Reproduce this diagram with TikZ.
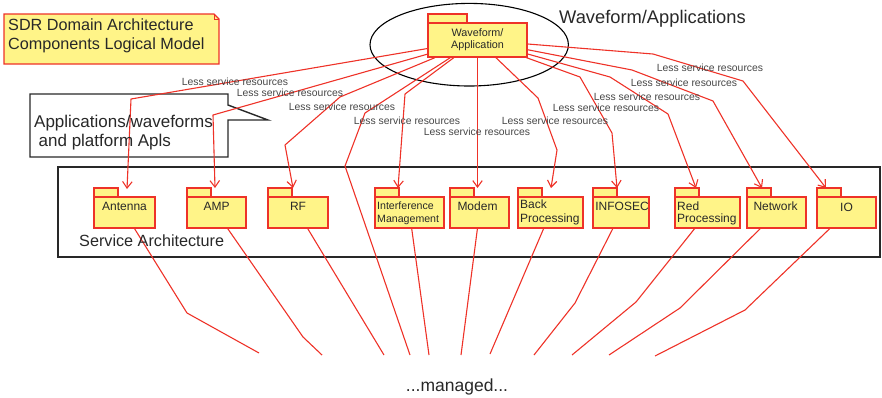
\documentclass[tikz,border=0pt]{standalone}
\usepackage{fontspec}
\setmainfont{Liberation Sans}
\usetikzlibrary{arrows.meta}

\definecolor{umlred}{RGB}{238,50,40}
\definecolor{umlyellow}{RGB}{255,244,136}
\definecolor{inkgray}{RGB}{40,40,40}
\definecolor{labelgray}{RGB}{70,70,70}

% package symbol: tab plus named body node (name, left x, right x)
\newcommand\umlpackage[3]{%
  \draw[pkgframe] (#2,188) rectangle ++(24,9);
  \node[pkgbody, minimum width={#3-#2}] (#1) at ({(#2+#3)/2},212.5) {};%
}

\begin{document}
\begin{tikzpicture}[x=1pt,y=-1pt,
  pkgframe/.style={draw=umlred, fill=umlyellow, line width=1.3pt},
  pkgbody/.style={pkgframe, inner sep=0pt, minimum height=31pt},
  pkglabel/.style={font=\fontsize{12}{13}\selectfont, text=inkgray, inner sep=0pt, anchor=base},
  pkgleft/.style={pkglabel, anchor=base west},
  smallleft/.style={font=\fontsize{10.6}{12}\selectfont, text=inkgray, inner sep=0pt, anchor=base west},
  bigtext/.style={font=\fontsize{16.5}{19}\selectfont, text=inkgray, inner sep=0pt, anchor=base west},
  resl/.style={font=\fontsize{10.4}{11}\selectfont, text=labelgray, inner sep=0pt, anchor=base},
  frame/.style={draw=inkgray, line width=1.4pt},
  conn/.style={draw=umlred, line width=1.1pt, line join=round},
  dep/.style={conn, -{Straight Barb[length=6.5pt,width=9.5pt]}},
]
\useasboundingbox (0,0) rectangle (882,397);

% service architecture container
\node[frame, inner sep=0pt, minimum width=822pt, minimum height=90pt] (svc) at (469,212) {};

% callout for the application interfaces
\draw[frame, fill=white] (30,94) -- (228,94) -- (228,105) -- (268,120)
  -- (228,120) -- (228,157) -- (30,157) -- cycle;

% waveform/application grouping
\draw[draw=black, line width=1.1pt] (469.2,44.7) ellipse [x radius=99.2, y radius=41.3];

% model title note with folded corner
\draw[pkgframe] (4,14) -- (214,14) -- (219,19) -- (219,64) -- (4,64) -- cycle;
\draw[draw=umlred, line width=1pt] (214,14) -- (214,19) -- (219,19);

% waveform package
\draw[pkgframe] (428,14) rectangle (467,23);
\node[pkgframe, inner sep=0pt, minimum width=99pt, minimum height=34pt,
  align=center, font=\fontsize{10.8}{12}\selectfont, text=inkgray] (wf) at (477.5,40)
  {Waveform/\\Application};

% service packages
\umlpackage{ant}{94}{155}
\umlpackage{amp}{187}{246}
\umlpackage{rf}{268}{328}
\umlpackage{intf}{375}{444}
\umlpackage{modem}{450}{509}
\umlpackage{back}{518}{583}
\umlpackage{infosec}{593}{649}
\umlpackage{red}{675}{740}
\umlpackage{net}{747}{806}
\umlpackage{io}{817}{876}

% arrow tips above the packages
\coordinate (antT) at (127,189);
\coordinate (ampT) at (215,188);
\coordinate (rfT) at (293,188);
\coordinate (intfT) at (398,188);
\coordinate (modemT) at (477.5,188);
\coordinate (backT) at (551,188);
\coordinate (infoT) at (617,188);
\coordinate (redT) at (696,188);
\coordinate (netT) at (762,188);
\coordinate (ioT) at (826,188);

% loose ends converging on the managed resources
\coordinate (m1) at (259,353);
\coordinate (m2) at (322,355);
\coordinate (m3) at (384,355);
\coordinate (m4) at (410,355);
\coordinate (m5) at (429,355);
\coordinate (m6) at (461,355);
\coordinate (m7) at (490,354);
\coordinate (m8) at (534,355);
\coordinate (m9) at (572,355);
\coordinate (m10) at (609,355);
\coordinate (m11) at (655,356);

% dependencies from the waveform to the services
\draw[dep] (wf) -- (131,99) -- (antT);
\draw[dep] (wf) -- (213,115) -- (ampT);
\draw[dep] (wf) -- (340,97) -- (285,145) -- (rfT);
\draw[conn] (wf) -- (365,113) -- (345,166) -- (m4);
\draw[dep] (wf) -- (405,94) -- (intfT);
\draw[dep] (wf) -- (modemT);
\draw[dep] (wf) -- (538,98) -- (557,150) -- (backT);
\draw[dep] (wf) -- (580,77) -- (612,133) -- (infoT);
\draw[dep] (wf) -- (610,77) -- (668,114) -- (redT);
\draw[dep] (wf) -- (632,70) -- (713,101) -- (netT);
\draw[dep] (wf) -- (653,54) -- (743,81) -- (ioT);

% services down to the managed resources
\draw[conn] (ant) -- (187,313) -- (m1);
\draw[conn] (amp) -- (303,337) -- (m2);
\draw[conn] (rf) -- (m3);
\draw[conn] (intf) -- (m5);
\draw[conn] (modem) -- (m6);
\draw[conn] (back) -- (m7);
\draw[conn] (infosec) -- (575,303) -- (m8);
\draw[conn] (red) -- (636,302) -- (m9);
\draw[conn] (net) -- (680,308) -- (m10);
\draw[conn] (io) -- (745,310) -- (m11);

% package names
\node[pkglabel] (antL) at (124.5,210.7) {Antenna};
\node[pkglabel] (ampL) at (216.5,210.7) {AMP};
\node[pkglabel] (rfL) at (298,210.7) {RF};
\node[smallleft] (intfL1) at (377,209.3) {Interference};
\node[smallleft] (intfL2) at (377,222.7) {Management};
\node[pkglabel] (modemL) at (477.5,210.7) {Modem};
\node[pkgleft] (backL1) at (520,208.3) {Back};
\node[pkgleft] (backL2) at (520,222.5) {Processing};
\node[pkglabel] (infoL) at (622,210) {INFOSEC};
\node[pkgleft] (redL1) at (677,210) {Red};
\node[pkgleft] (redL2) at (677,222) {Processing};
\node[pkglabel] (netL) at (775.5,210.5) {Network};
\node[pkglabel] (ioL) at (846.5,211.7) {IO};

% dependency labels
\node[resl] (r1) at (235,85) {Less service resources};
\node[resl] (r2) at (290,96.5) {Less service resources};
\node[resl] (r3) at (342,110.5) {Less service resources};
\node[resl] (r4) at (407,124.5) {Less service resources};
\node[resl] (r5) at (477,135.5) {Less service resources};
\node[resl] (r6) at (555,124.5) {Less service resources};
\node[resl] (r7) at (606,111) {Less service resources};
\node[resl] (r8) at (647,100.5) {Less service resources};
\node[resl] (r9) at (684,86.5) {Less service resources};
\node[resl] (r10) at (710,71.5) {Less service resources};

% titles and annotations
\node[bigtext, font=\fontsize{16.2}{18}\selectfont] (t1) at (8,30.7) {SDR Domain Architecture};
\node[bigtext, font=\fontsize{16.2}{18}\selectfont] (t2) at (8,49.3) {Components Logical Model};
\node[bigtext, font=\fontsize{18.3}{20}\selectfont] (wfT) at (559,23.3) {Waveform/Applications};
\node[bigtext, font=\fontsize{17}{19}\selectfont] (c1) at (34,127) {Applications/waveforms};
\node[bigtext, font=\fontsize{17}{19}\selectfont] (c2) at (38.5,146) {and platform Apls};
\node[bigtext, font=\fontsize{16.2}{18}\selectfont] (svcT) at (79,246) {Service Architecture};
\node[bigtext, font=\fontsize{17.5}{19}\selectfont, anchor=base] (mgT) at (457,391) {...managed...};
\end{tikzpicture}
\end{document}
